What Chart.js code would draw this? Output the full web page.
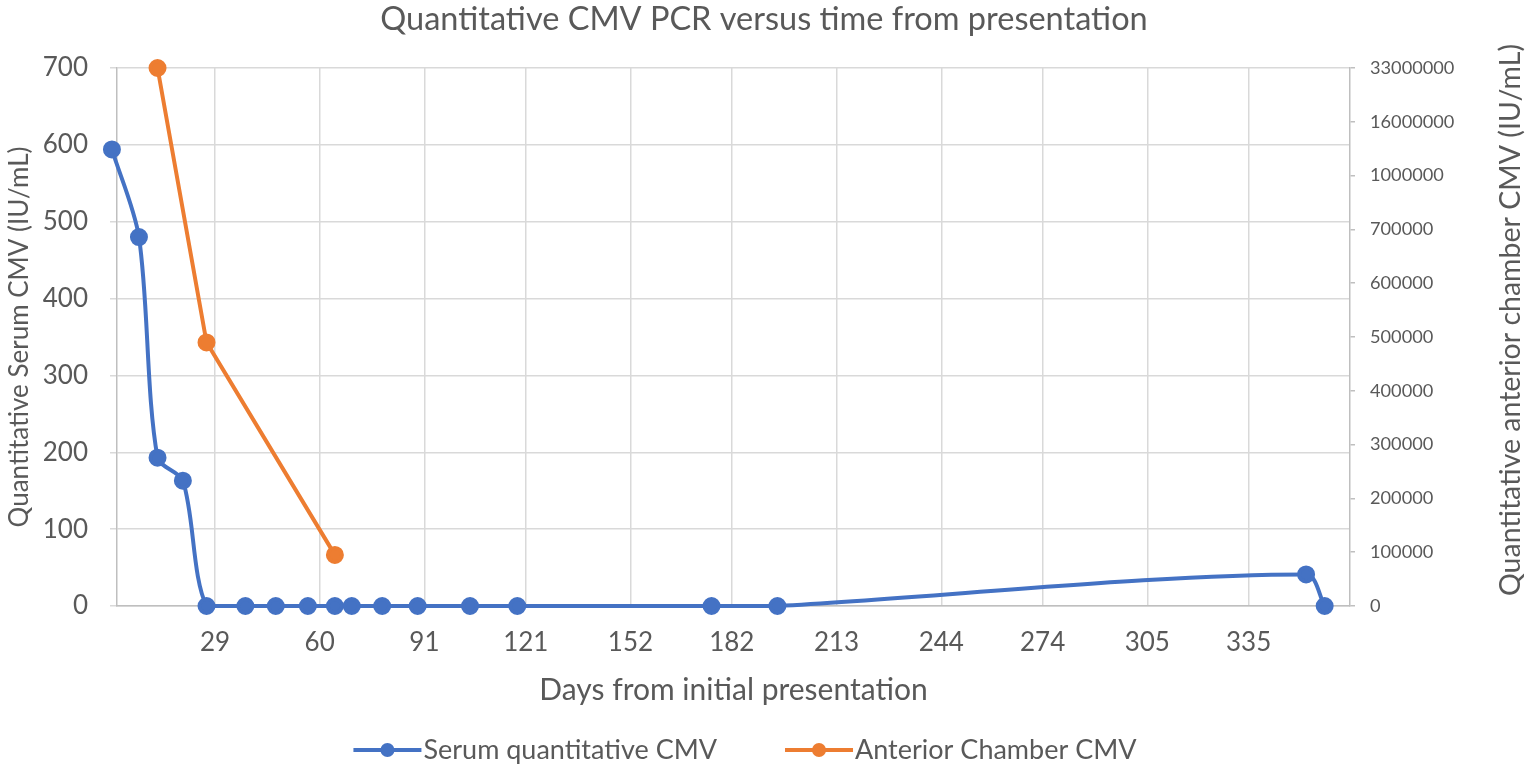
<!DOCTYPE html>
<html>
<head>
<meta charset="utf-8">
<title>Quantitative CMV PCR versus time from presentation</title>
<script src="https://cdn.jsdelivr.net/npm/chart.js@4.4.1/dist/chart.umd.min.js"></script>
<style>
  html, body { margin: 0; padding: 0; background: #fff; }
  #wrap { width: 1528px; height: 768px; }
</style>
</head>
<body>
<div id="wrap"><canvas id="chart"></canvas></div>
<script>
// values
const serumDays = [-1.5, 6.5, 12, 19.5, 26.5, 38, 47, 56.5, 64.5, 69.5, 78.5, 89, 104.5, 118.5, 176, 195.5, 352, 357.5];
const serumValues = [594, 480, 193, 163, 0, 0, 0, 0, 0, 0, 0, 0, 0, 0, 0, 0, 41, 0];

const chamberDays = [12, 26.5, 64.5];
const chamberValues = [33000000, 490000, 95000];

const dayTicks = [29, 60, 91, 121, 152, 182, 213, 244, 274, 305, 335];
// right axis is broken: evenly spaced ticks carrying these labels
const rightTicks = [0, 100000, 200000, 300000, 400000, 500000, 600000, 700000, 1000000, 16000000, 33000000];

const textColor = '#595959';
const gridColor = '#D9D9D9';
const axisColor = '#BFBFBF';
const blue = '#4472C4';
const orange = '#ED7D31';
const family = 'Lato';

// map a real value onto the evenly spaced right-axis ticks
function toRightAxis(v) {
  for (let i = 1; i < rightTicks.length; i++) {
    if (v <= rightTicks[i]) {
      return (i - 1) + (v - rightTicks[i - 1]) / (rightTicks[i] - rightTicks[i - 1]);
    }
  }
  return rightTicks.length - 1;
}

// legend drawn like the Excel one: line with a marker, then text
const excelLegend = {
  id: 'excelLegend',
  afterDraw(chart) {
    const ctx = chart.ctx;
    const items = chart.data.datasets;
    const lineW = 68, gapText = 2, gapItem = 68, y = 750;
    ctx.save();
    ctx.font = '27px ' + family;
    ctx.textBaseline = 'middle';
    const widths = items.map(d => lineW + gapText + ctx.measureText(d.label).width);
    const total = widths.reduce((a, b) => a + b, 0) + gapItem * (items.length - 1);
    let x = 745 - total / 2;
    items.forEach((d, i) => {
      ctx.strokeStyle = d.borderColor;
      ctx.lineWidth = 4;
      ctx.beginPath();
      ctx.moveTo(x, y);
      ctx.lineTo(x + lineW, y);
      ctx.stroke();
      ctx.fillStyle = d.borderColor;
      ctx.beginPath();
      ctx.arc(x + lineW / 2, y, 7, 0, Math.PI * 2);
      ctx.fill();
      ctx.fillStyle = textColor;
      ctx.fillText(d.label, x + lineW + gapText, y);
      x += widths[i] + gapItem;
    });
    ctx.restore();
  }
};

// right axis title reads bottom-to-top in the original
const rightTitle = {
  id: 'rightTitle',
  afterDraw(chart) {
    const ctx = chart.ctx;
    ctx.save();
    ctx.translate(1511, 320);
    ctx.rotate(-Math.PI / 2);
    ctx.font = '28.5px ' + family;
    ctx.fillStyle = textColor;
    ctx.textAlign = 'center';
    ctx.textBaseline = 'middle';
    ctx.fillText('Quantitative anterior chamber CMV (IU/mL)', 0, 0);
    ctx.restore();
  }
};

new Chart(document.getElementById('chart'), {
  type: 'line',
  data: {
    datasets: [
      {
        label: 'Serum quantitative CMV',
        data: serumDays.map((d, i) => ({ x: d, y: serumValues[i] })),
        borderColor: blue,
        backgroundColor: blue,
        borderWidth: 4,
        pointRadius: 7,
        pointHoverRadius: 7,
        tension: 0.3,
        yAxisID: 'y',
        clip: false
      },
      {
        label: 'Anterior Chamber CMV',
        data: chamberDays.map((d, i) => ({ x: d, y: toRightAxis(chamberValues[i]) })),
        borderColor: orange,
        backgroundColor: orange,
        borderWidth: 4,
        pointRadius: 7,
        pointHoverRadius: 7,
        tension: 0,
        yAxisID: 'y2',
        clip: false
      }
    ]
  },
  options: {
    responsive: true,
    maintainAspectRatio: false,
    animation: false,
    layout: { padding: { left: 0, right: 0, top: 0, bottom: 42 } },
    plugins: {
      legend: { display: false },
      tooltip: { enabled: false },
      title: {
        display: true,
        text: 'Quantitative CMV PCR versus time from presentation',
        color: textColor,
        font: { family, size: 32.5, weight: 'normal' },
        padding: { top: 0, bottom: 29 }
      }
    },
    scales: {
      x: {
        type: 'linear',
        min: 0,
        max: 365,
        afterBuildTicks: s => { s.ticks = dayTicks.map(v => ({ value: v })); },
        afterFit: s => { s.height = 120; },
        grid: { color: gridColor, lineWidth: 1.5, drawTicks: false },
        border: { color: axisColor, width: 1.5 },
        ticks: { color: textColor, font: { family, size: 26 }, padding: 21, maxRotation: 0, autoSkip: false },
        title: {
          display: true,
          text: 'Days from initial presentation',
          color: textColor,
          font: { family, size: 30 },
          padding: { top: 0, bottom: 18 }
        }
      },
      y: {
        position: 'left',
        min: 0,
        max: 700,
        afterFit: s => { s.width = 117; },
        grid: { color: gridColor, lineWidth: 1.5, tickLength: 7 },
        border: { color: axisColor, width: 1.5 },
        ticks: { stepSize: 100, color: textColor, font: { family, size: 26 }, padding: 22 },
        title: {
          display: true,
          text: 'Quantitative Serum CMV (IU/mL)',
          color: textColor,
          font: { family, size: 26 },
          padding: { top: 4, bottom: 0 }
        }
      },
      y2: {
        position: 'right',
        min: 0,
        max: rightTicks.length - 1,
        afterFit: s => { s.width = 178; },
        grid: { drawOnChartArea: false, color: axisColor, lineWidth: 1.5, tickLength: 5 },
        border: { color: axisColor, width: 1.5 },
        ticks: {
          stepSize: 1,
          color: textColor,
          font: { family, size: 18.2 },
          padding: 15,
          callback: v => String(rightTicks[Math.round(v)])
        },
        title: { display: false }
      }
    }
  },
  plugins: [excelLegend, rightTitle]
});
</script>
</body>
</html>
